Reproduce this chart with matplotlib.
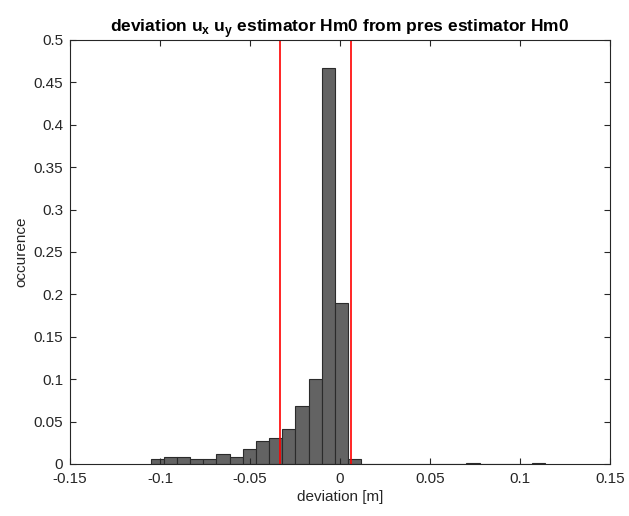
import numpy as np
import matplotlib.pyplot as plt

plt.rcParams['font.family'] = ['Liberation Sans', 'DejaVu Sans']

# histogram: 30 bins starting at -0.1052, width 0.00731
bin_start = -0.1052
bin_width = 0.00731
occurence = [0.0059, 0.0086, 0.0086, 0.0060, 0.0060, 0.0114, 0.0082, 0.0173,
             0.0270, 0.0307, 0.0417, 0.0688, 0.1000, 0.4670, 0.1895, 0.0055,
             0.0, 0.0, 0.0, 0.0, 0.0, 0.0, 0.0, 0.0,
             0.0015, 0.0, 0.0, 0.0, 0.0, 0.0010]
limits = [-0.0333, 0.0063]

edges = bin_start + bin_width * np.arange(len(occurence))

fig = plt.figure(figsize=(6.29, 5.16), dpi=100)
ax = fig.add_axes([0.1113, 0.1008, 0.8585, 0.8217])

ax.bar(edges, occurence, width=bin_width, align='edge',
       color='#636363', edgecolor='#2b2b2b', linewidth=0.8)
for v in limits:
    ax.axvline(v, color='#ff0000', linewidth=1.2)

ax.set_xlim(-0.15, 0.15)
ax.set_ylim(0, 0.5)
ax.set_xticks([-0.15, -0.1, -0.05, 0, 0.05, 0.1, 0.15])
ax.set_xticklabels(['-0.15', '-0.1', '-0.05', '0', '0.05', '0.1', '0.15'])
ax.set_yticks(np.arange(0, 0.51, 0.05))
ax.set_yticklabels(['0', '0.05', '0.1', '0.15', '0.2', '0.25', '0.3', '0.35',
                    '0.4', '0.45', '0.5'])
ax.tick_params(direction='in', length=4, labelsize=11, colors='#262626',
               top=True, right=True, labeltop=False, labelright=False)
ax.tick_params(axis='x', pad=6)
ax.tick_params(axis='y', pad=5)
for s in ax.spines.values():
    s.set_color('#262626')
    s.set_linewidth(0.8)

ax.set_xlabel('deviation [m]', fontsize=11, color='#262626', labelpad=3)
ax.set_ylabel('occurence', fontsize=11, color='#262626')
ax.set_title(r'deviation u$_\mathregular{x}$ u$_\mathregular{y}$ estimator Hm0 from pres estimator Hm0',
             fontsize=12.5, fontweight='bold', pad=6)

fig.savefig('out.png', dpi=100)
